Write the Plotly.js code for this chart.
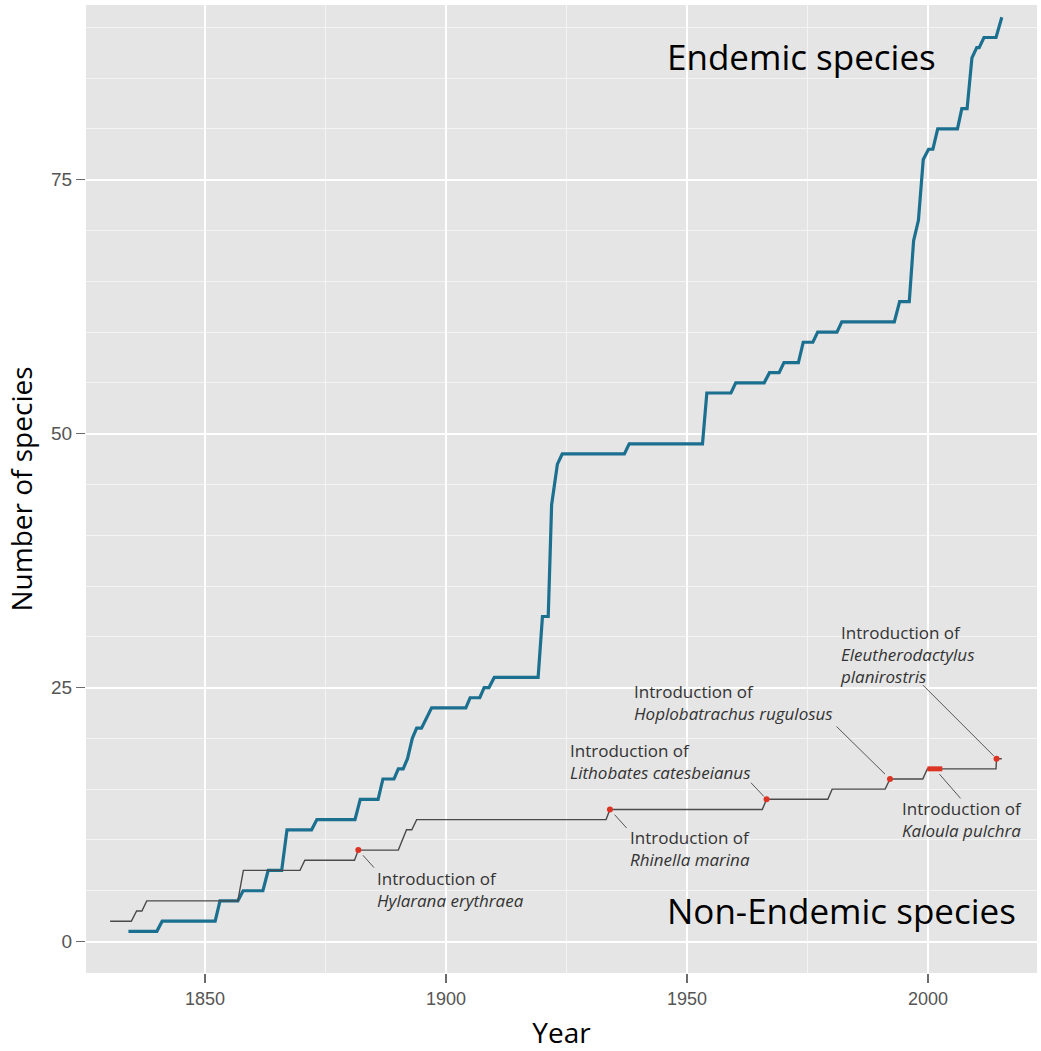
<!DOCTYPE html>
<html>
<head>
<meta charset="utf-8">
<script src="https://cdn.plot.ly/plotly-3.0.1.min.js"></script>
<style>html,body{margin:0;padding:0;background:#fff;}#chart{width:1041px;height:1051px;}</style>
</head>
<body>
<div id="chart"></div>
<script>
// Cumulative number of endemic species
const endemicYears = [1834.1,1840.0,1841.1,1852.1,1853.1,1856.8,1857.9,1862.0,1863.1,1865.9,1867.0,1872.1,1873.2,1881.1,1882.2,1885.9,1886.9,1889.2,1890.1,1891.1,1892.0,1893.0,1893.9,1894.9,1897.0,1904.1,1905.0,1907.0,1907.9,1908.9,1910.0,1919.1,1920.0,1921.2,1921.9,1923.1,1924.1,1937.0,1938.0,1953.2,1954.1,1959.1,1960.1,1966.0,1967.1,1969.1,1970.1,1973.1,1974.1,1976.1,1977.1,1981.1,1982.1,1993.0,1994.1,1996.1,1997.0,1998.0,1999.0,2000.1,2001.0,2002.0,2006.1,2007.0,2008.1,2009.1,2010.1,2010.6,2011.6,2014.1,2015.3];
const endemicCounts = [1,1,2,2,4,4,5,5,7,7,11,11,12,12,14,14,16,16,17,17,18,20,21,21,23,23,24,24,25,25,26,26,32,32,43,47,48,48,49,49,54,54,55,55,56,56,57,57,59,59,60,60,61,61,63,63,69,71,77,78,78,80,80,82,82,87,88,88,89,89,91];

// Cumulative number of non-endemic species
const nonEndemicYears = [1830.3,1834.7,1835.8,1836.9,1837.9,1856.8,1857.95,1869.7,1870.7,1881.0,1881.8,1890.1,1891.8,1892.9,1893.9,1933.2,1934.0,1965.6,1966.5,1979.2,1980.1,1991.1,1992.1,1998.9,1999.85,2014.1,2014.2,2015.3];
const nonEndemicCounts = [2,2,3,3,4,4,7,7,8,8,9,9,11,11,12,12,13,13,14,14,15,15,16,16,17,17,18,18];

// Introductions of non-endemic species
const introYears = [1881.8,1934.0,1966.5,1992.1,2014.2];
const introCounts = [9,13,14,16,18];
const introSpecies = ['Hylarana erythraea','Rhinella marina','Lithobates catesbeianus','Hoplobatrachus rugulosus','Eleutherodactylus<br>planirostris'];

// Kaloula pulchra introduction period
const kaloulaYears = [1999.85,2002.95];
const kaloulaCounts = [17,17];
const kaloulaLabel = 'Kaloula pulchra';

const xTickVals = [1850,1900,1950,2000];
const yTickVals = [0,25,50,75];

const txtFont = {family:'Open Sans, sans-serif', size:17, color:'#333333'};
const leaderColor = '#555555';

// label layout: [xanchor, yanchor, xshift, yshift] relative to the introduction point
const labelPlace = [
  ['left','top',17,-15],
  ['left','top',18,-15],
  ['right','bottom',-15,13],
  ['right','bottom',-55,52],
  ['left','top',-159,140]
];
// leader layout: [ax, ay, standoff]
const leaderPlace = [
  [17,19,7],
  [18,20,7],
  [-17,-18,4],
  [-55,-54,7],
  [-75,-75,4]
];

const traces = [
  {x:endemicYears, y:endemicCounts, type:'scatter', mode:'lines', line:{color:'#1b6f8f', width:3.2}, hoverinfo:'x+y', name:'Endemic'},
  {x:nonEndemicYears, y:nonEndemicCounts, type:'scatter', mode:'lines', line:{color:'#4a4a4a', width:1.4}, hoverinfo:'x+y', name:'Non-Endemic'},
  {x:kaloulaYears, y:kaloulaCounts, type:'scatter', mode:'lines', line:{color:'#dd3322', width:5}, hoverinfo:'x+y', name:kaloulaLabel},
  {x:introYears, y:introCounts, type:'scatter', mode:'markers', marker:{color:'#dd3322', size:6}, hoverinfo:'x+y', name:'Introductions'}
];

const annotations = [];
introYears.forEach((yr,i)=>{
  const p = labelPlace[i];
  annotations.push({x:yr, y:introCounts[i], xref:'x', yref:'y', showarrow:false,
    text:'Introduction of<br><i>'+introSpecies[i].replace('<br>','</i><br><i>')+'</i>',
    align:'left', xanchor:p[0], yanchor:p[1], xshift:p[2], yshift:p[3], font:txtFont});
  const l = leaderPlace[i];
  annotations.push({x:yr, y:introCounts[i], xref:'x', yref:'y', text:'', showarrow:true,
    arrowhead:0, arrowwidth:1, arrowcolor:leaderColor, ax:l[0], ay:l[1], standoff:l[2]});
});
// Kaloula pulchra label
const kMid = (kaloulaYears[0]+kaloulaYears[1])/2;
annotations.push({x:kMid, y:kaloulaCounts[0], xref:'x', yref:'y', showarrow:false,
  text:'Introduction of<br><i>'+kaloulaLabel+'</i>', align:'left', xanchor:'left', yanchor:'top',
  xshift:-35, yshift:-26, font:txtFont});
annotations.push({x:kMid, y:kaloulaCounts[0], xref:'x', yref:'y', text:'', showarrow:true,
  arrowhead:0, arrowwidth:1, arrowcolor:leaderColor, ax:27, ay:31, standoff:7});
// Group labels
annotations.push({x:1945.4, y:87.1, xref:'x', yref:'y', showarrow:false, text:'Endemic species',
  xanchor:'left', yanchor:'middle', font:{family:'Open Sans, sans-serif', size:35, color:'#000'}});
annotations.push({x:1945.4, y:3.1, xref:'x', yref:'y', showarrow:false, text:'Non-Endemic species',
  xanchor:'left', yanchor:'middle', font:{family:'Open Sans, sans-serif', size:35, color:'#000'}});

const layout = {
  width:1041, height:1051,
  margin:{l:86, r:4, t:5, b:78},
  paper_bgcolor:'#ffffff', plot_bgcolor:'#e5e5e5',
  showlegend:false,
  xaxis:{range:[1825.3,2022.6], tickvals:xTickVals, ticktext:xTickVals.map(String),
    showgrid:true, gridcolor:'#ffffff', gridwidth:2, zeroline:false, showline:false,
    ticks:'outside', ticklen:9, tickwidth:1.5, tickcolor:'#6b6b6b',
    tickfont:{family:'Liberation Sans, Arial, sans-serif', size:18, color:'#555555'},
    minor:{dtick:25, tick0:1825, showgrid:true, gridcolor:'#f4f4f4', gridwidth:1, ticks:''},
    title:{text:'Year', font:{family:'Open Sans, sans-serif', size:28, color:'#000'}, standoff:16},
    automargin:false},
  yaxis:{range:[-3.1,92.2], tickvals:yTickVals, ticktext:yTickVals.map(String),
    showgrid:true, gridcolor:'#ffffff', gridwidth:2, zeroline:false, showline:false,
    ticks:'outside', ticklen:9, tickwidth:1.5, tickcolor:'#6b6b6b',
    tickfont:{family:'Liberation Sans, Arial, sans-serif', size:19, color:'#555555'},
    minor:{dtick:5, tick0:0, showgrid:true, gridcolor:'#f4f4f4', gridwidth:1, ticks:''},
    title:{text:'Number of species', font:{family:'Open Sans, sans-serif', size:28, color:'#000'}, standoff:10},
    automargin:false},
  annotations:annotations
};

Plotly.newPlot('chart', traces, layout, {staticPlot:true, displayModeBar:false});
</script>
</body>
</html>
